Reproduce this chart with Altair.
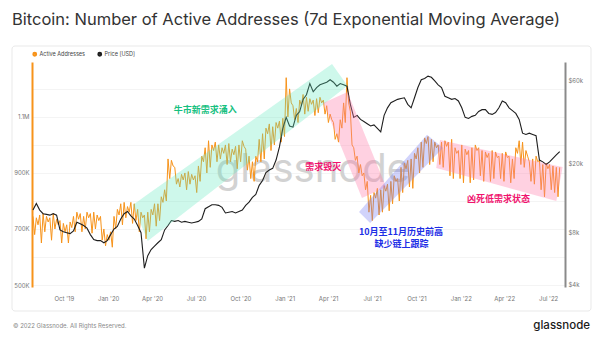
import altair as alt
import pandas as pd
import numpy as np

# ---------------- data ----------------
# weekly high / low of Active Addresses (7d EMA), thousands
aa_high_k = [745, 740, 750, 755, 745, 740, 755, 735, 730, 720, 715, 725, 745, 760, 755, 745, 760, 755, 760, 750,
             745, 700, 680, 690, 745, 770, 790, 795, 780, 795, 790, 770, 760, 750, 760, 770, 790, 790, 815, 840,
             950, 945, 920, 880, 895, 900, 905, 895, 890, 925, 960, 990, 1015, 1000, 1010, 1000, 990, 1000, 1005, 985,
             995, 1000, 1015, 985, 960, 940, 960, 1020, 1040, 1060, 1075, 1065, 1080, 1085, 1095, 1240, 1200, 1140, 1130, 1160,
             1180, 1170, 1165, 1160, 1165, 1170, 1160, 1140, 1110, 1080, 1040, 1090, 1150, 1240, 1120, 990, 960, 930, 900, 870,
             820, 830, 845, 840, 855, 860, 870, 890, 880, 920, 935, 945, 950, 970, 990, 1010, 1025, 1030, 1020, 1010,
             1000, 1010, 1015, 1010, 1020, 990, 980, 1000, 985, 980, 990, 1000, 990, 980, 975, 970, 980, 975, 960, 970,
             975, 960, 950, 990, 1015, 1010, 980, 940, 950, 960, 945, 930, 935, 930, 925, 920, 920]
aa_low_k = [680, 715, 650, 690, 725, 660, 700, 715, 650, 690, 650, 705, 690, 735, 690, 700, 740, 685, 700, 730,
            660, 640, 660, 635, 700, 750, 715, 740, 760, 720, 730, 690, 740, 665, 690, 750, 710, 730, 795, 800,
            880, 925, 860, 850, 875, 840, 860, 875, 830, 870, 940, 900, 920, 980, 940, 950, 970, 930, 940, 965,
            915, 940, 995, 910, 880, 870, 940, 940, 950, 1040, 980, 1000, 1060, 1010, 1030, 1100, 1150, 1090, 1080, 1140,
            1110, 1120, 1145, 1105, 1115, 1150, 1110, 1080, 1090, 1020, 1010, 1060, 1080, 1150, 1000, 945, 900, 890, 840, 760,
            730, 810, 750, 760, 835, 765, 790, 870, 800, 830, 915, 850, 845, 950, 900, 920, 1005, 930, 940, 990,
            930, 920, 995, 890, 880, 970, 880, 865, 965, 865, 875, 980, 890, 870, 955, 870, 880, 955, 880, 870,
            955, 865, 880, 970, 930, 920, 960, 870, 860, 940, 840, 815, 915, 840, 830, 815]
# weekly BTC price, thousands of USD
price_k = [10.8, 11.8, 10.8, 10.3, 10.2, 10.1, 10.3, 10.1, 8.3, 8.1, 8.0, 7.9, 8.2, 9.2, 9.0, 8.8, 8.5, 7.8, 7.3, 7.2,
           7.2, 7.0, 7.2, 7.8, 8.4, 8.7, 9.6, 10.3, 10.6, 10.0, 9.6, 8.8, 8.0, 5.0, 5.9, 6.4, 6.7, 7.0, 7.3, 8.3,
           8.8, 9.4, 9.3, 9.4, 9.2, 9.3, 9.2, 9.1, 9.2, 9.3, 9.6, 11.0, 11.3, 11.6, 11.6, 11.5, 11.2, 10.4, 10.5, 10.6,
           10.4, 10.6, 10.8, 11.5, 12.0, 12.8, 13.3, 15.0, 16.0, 17.8, 18.4, 18.8, 21.0, 25.0, 32.0, 37.0, 33.0, 32.5, 38.0, 40.0,
           47, 50, 58, 52, 55, 57, 58, 59, 61, 59, 56, 58, 57, 56, 44, 37, 38, 36, 35, 34,
           33, 33.5, 32, 30.5, 38, 42, 45, 46, 47, 47.5, 48, 44, 42, 48, 55, 61, 62, 64, 63, 60,
           57, 55, 49, 48, 47, 47.5, 46, 42, 37, 36.5, 37.5, 38, 40, 41, 41, 39, 38.5, 39.5, 42, 46,
           45, 42, 40.5, 39, 36, 30, 29.5, 30, 29.5, 29, 21, 20.5, 19.8, 20.5, 21.5, 22.5, 23.5]

# annotation bands: corners (date, active addresses) in drawing order
band_names = ["green", "pink1", "blue", "pink2"]
band_corners = {
    "green": [("2020-02-21", 786e3), ("2021-04-09", 1289e3), ("2021-05-11", 1211e3), ("2020-03-23", 657e3)],
    "pink1": [("2021-03-22", 1150e3), ("2021-05-11", 1189e3), ("2021-07-30", 850e3), ("2021-06-10", 811e3)],
    "blue": [("2021-06-04", 761e3), ("2021-10-23", 1036e3), ("2021-11-25", 989e3), ("2021-06-27", 721e3)],
    "pink2": [("2021-11-19", 1018e3), ("2022-07-31", 921e3), ("2022-07-18", 800e3), ("2021-11-11", 918e3)],
}
band_fill = {"green": "#5ee8bd", "pink1": "#ff7aa8", "blue": "#7479f2", "pink2": "#ff7aa8"}
band_opacity = {"green": 0.3, "pink1": 0.35, "blue": 0.33, "pink2": 0.35}

note_texts = ["牛市新需求涌入", "需求毁灭", "10月至11月历史前高", "缺少链上跟踪", "凶死低需求状态"]
note_dates = ["2020-07-20", "2021-03-22", "2021-08-30", "2021-08-31", "2022-03-20"]
note_values = [1125e3, 921e3, 689e3, 646e3, 807e3]
note_colors = ["#16c07f", "#f0136e", "#1d2ee6", "#1d2ee6", "#f0136e"]

series_names = ["Active Addresses", "Price [USD]"]
ORANGE = "#f7931a"
BLACK = "#1e1e1e"

# ---------------- frames ----------------
week = pd.date_range("2019-07-29", periods=len(aa_high_k), freq="7D")
rows = []
for i, d in enumerate(week):
    rows.append({"date": d, "aa": aa_high_k[i] * 1000, "series": series_names[0]})
    if i < len(aa_low_k):
        rows.append({"date": d + pd.Timedelta(hours=84), "aa": aa_low_k[i] * 1000, "series": series_names[0]})
aa_df = pd.DataFrame(rows)
px_df = pd.DataFrame({"date": week, "price": [p * 1000 for p in price_k], "series": series_names[1]})


def band_rows(name):
    pts = [(pd.Timestamp(d).value, v) for d, v in band_corners[name]]
    n = len(pts)
    li = min(range(n), key=lambda k: pts[k][0])
    ri = max(range(n), key=lambda k: pts[k][0])

    def chain(step):
        out = [pts[li]]
        k = li
        while k != ri:
            k = (k + step) % n
            out.append(pts[k])
        return out

    c1, c2 = chain(1), chain(-1)
    out = []
    for x in sorted(p[0] for p in pts):
        a = np.interp(x, [p[0] for p in c1], [p[1] for p in c1])
        b = np.interp(x, [p[0] for p in c2], [p[1] for p in c2])
        out.append({"date": pd.Timestamp(x), "hi": max(a, b), "lo": min(a, b)})
    return pd.DataFrame(out)


notes_df = pd.DataFrame({"date": pd.to_datetime(note_dates), "val": note_values,
                         "text": note_texts, "color": note_colors})

# ---------------- scales / axes ----------------
W, H = 533, 225
xscale = alt.Scale(domain=[alt.DateTime(year=2019, month=7, date=27), alt.DateTime(year=2022, month=8, date=5)], nice=False)
xaxis = alt.Axis(values=[alt.DateTime(year=y, month=m, date=1) for y, m in
                         [(2019, 10), (2020, 1), (2020, 4), (2020, 7), (2020, 10), (2021, 1), (2021, 4),
                          (2021, 7), (2021, 10), (2022, 1), (2022, 4), (2022, 7)]],
                 format="%b '%y", labelFontSize=6, labelColor="#777", labelFont="Inter",
                 domain=False, ticks=False, grid=False, labelPadding=8, title=None)
X = alt.X("date:T", scale=xscale, axis=xaxis)
lscale = alt.Scale(domain=[493000, 1296000], nice=False, zero=False)
pscale = alt.Scale(type="log", domain=[3890, 77200], nice=False)

color = alt.Color("series:N", scale=alt.Scale(domain=series_names, range=[ORANGE, BLACK]),
                  legend=alt.Legend(orient="none", legendX=0, legendY=-11, direction="horizontal", title=None,
                                    symbolType="circle", symbolSize=5, symbolStrokeWidth=2.6,
                                    labelFontSize=5.5, labelFont="Inter", labelColor="#444",
                                    labelOffset=2, columnPadding=8, padding=0))

orange = alt.Chart(aa_df).mark_line(strokeWidth=1.0, interpolate="linear").encode(
    x=X,
    y=alt.Y("aa:Q", scale=lscale, axis=alt.Axis(
        orient="left", values=list(range(500000, 1300001, 100000)),
        labelExpr="datum.value % 200000 == 100000 ? (datum.value >= 1000000 ? format(datum.value/1000000, '.1f') + 'M' : format(datum.value/1000, 'd') + 'K') : ''",
        domainColor=ORANGE, domainWidth=2, ticks=False, grid=True, gridColor="#f1f1f1", gridWidth=0.8,
        labelFontSize=6, labelColor="#777", labelFont="Inter", labelPadding=3, title=None)),
    color=color,
)

price = alt.Chart(px_df).mark_line(strokeWidth=1.1).encode(
    x=X,
    y=alt.Y("price:Q", scale=pscale, axis=alt.Axis(
        orient="right", values=[4000, 8000, 20000, 60000],
        labelExpr="'$' + format(datum.value/1000, 'd') + 'k'",
        domainColor="#8a8a8a", domainWidth=2, ticks=False, grid=False,
        labelFontSize=6, labelColor="#777", labelFont="Inter", labelPadding=3, title=None)),
    color=color,
)

bands = [
    alt.Chart(band_rows(b)).mark_area(color=band_fill[b], opacity=band_opacity[b]).encode(
        x=X, y=alt.Y("hi:Q", scale=lscale, axis=None), y2="lo:Q")
    for b in band_names
]

notes = alt.Chart(notes_df).mark_text(font="Noto Sans CJK SC", fontWeight="bold", fontSize=9,
                                      align="center", baseline="middle").encode(
    x=X, y=alt.Y("val:Q", scale=lscale, axis=None), text="text:N", color=alt.Color("color:N", scale=None))

# decorative page elements (positions relative to the plot origin)
frame = alt.Chart(pd.DataFrame({"k": [0]})).mark_rect(fillOpacity=0, stroke="#e9e9e9", strokeWidth=1, cornerRadius=3).encode(
    x=alt.value(-20), x2=alt.value(559), y=alt.value(-16), y2=alt.value(249))
title = alt.Chart(pd.DataFrame({"t": ["Bitcoin: Number of Active Addresses (7d Exponential Moving Average)"]})).mark_text(
    align="left", baseline="middle", font="Inter", fontSize=16.5, color="#333").encode(
    x=alt.value(-20), y=alt.value(-42), text="t:N")
watermark = alt.Chart(pd.DataFrame({"t": ["glassnode"]})).mark_text(
    align="center", baseline="alphabetic", font="Inter", fontSize=40, fontWeight=400, color="#d2d2d2").encode(
    x=alt.value(281), y=alt.value(120), text="t:N")
footer = alt.Chart(pd.DataFrame({"t": ["© 2022 Glassnode. All Rights Reserved."]})).mark_text(
    align="left", baseline="middle", font="Inter", fontSize=6, color="#8a8a8a").encode(
    x=alt.value(-19), y=alt.value(264), text="t:N")
logo = alt.Chart(pd.DataFrame({"t": ["glassnode"]})).mark_text(
    align="right", baseline="middle", font="Inter", fontSize=11.5, fontWeight=500, color="#1a1a1a").encode(
    x=alt.value(558), y=alt.value(264), text="t:N")

chart = alt.layer(frame, title, footer, logo, watermark, orange, price, *bands, notes).resolve_scale(
    y="independent"
).properties(
    width=W, height=H,
    padding={"left": 32, "top": 62, "right": 35, "bottom": 58},
    autosize=alt.AutoSizeParams(type="none"),
    background="white",
).configure_view(strokeWidth=0)

chart.save("out.html", embed_options={"renderer": "svg", "actions": False})
